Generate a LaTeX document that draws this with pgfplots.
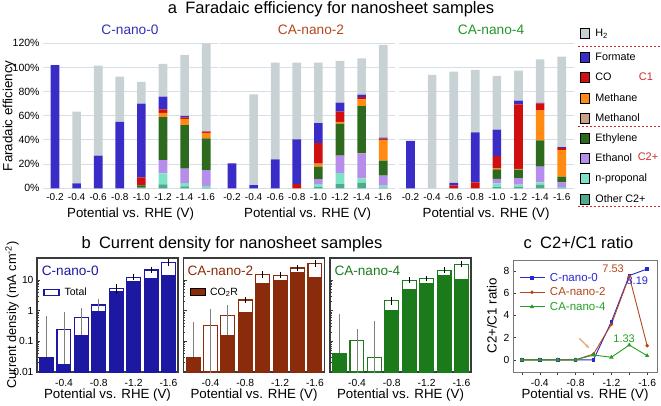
\documentclass[border=0pt]{standalone}
\usepackage{fontspec}
\setmainfont{Liberation Sans}
\usepackage{pgfplots}
\pgfplotsset{compat=1.18}
\usepackage{pgfplotstable}
\usetikzlibrary{arrows.meta}

\definecolor{cH2}{HTML}{C8D2D5}
\definecolor{cFormate}{HTML}{3A2CC6}
\definecolor{cCO}{HTML}{D0100F}
\definecolor{cMethane}{HTML}{FF8A14}
\definecolor{cMethanol}{HTML}{C9A184}
\definecolor{cEthylene}{HTML}{2E6A1E}
\definecolor{cEthanol}{HTML}{B68DEA}
\definecolor{cNprop}{HTML}{7EE3C6}
\definecolor{cOther}{HTML}{4FA98B}
\definecolor{cGrid}{HTML}{D6DFE8}
\definecolor{cRedD}{HTML}{D42A2A}
\definecolor{cT0}{HTML}{3030B8}
\definecolor{cT2}{HTML}{B4471E}
\definecolor{cT4}{HTML}{22962A}
\definecolor{cB0}{HTML}{1C18A2}
\definecolor{cB2}{HTML}{8A2B0C}
\definecolor{cB4}{HTML}{1B7B1B}
\definecolor{cFrame}{HTML}{3A3A3A}
\definecolor{cFrameC}{HTML}{777777}
\definecolor{cL0}{HTML}{2828D0}
\definecolor{cL2}{HTML}{B5461C}
\definecolor{cL4}{HTML}{23A023}
\definecolor{cArrow}{HTML}{E6A56E}

\newcommand\fs[1]{\fontsize{#1}{#1}\selectfont}

% Faradaic efficiency (%), stacked bottom to top
\pgfplotstableread{
x other nprop ethanol ethylene methanol methane co formate h2
1 0 0 0 0 0 0 0 102 0
2 0 0 0 0 0 0 0 4 59.5
3 0 0 0 0 0 0 0 27 74.5
4 0 0 0 0 0 0 0 55 37.5
5 0.5 0 0 2 0 0 6.5 61 18
6 3.3 9.1 11 35.4 0 3.6 3 10.4 27.2
7 1.5 2.8 12 36 0 4.9 1.4 1.4 50.3
8 0.5 1.5 13 26.4 0 4.4 1.1 0.3 72.8
}\feA
\pgfplotstableread{
x other nprop ethanol ethylene methanol methane co formate h2
1 0 0 0 0 0 0 0 20.7 0
2 0 0 0 0 0 0 0 2.7 75.1
3 0 0 0 0 0 0 0 24 80
4 0 0 0 0 0 0 3.5 37 63.5
5 1 2.5 4 10.5 0 2.5 17 16.5 50
6 3.5 9 14.5 26.5 0 1.5 8.5 7.5 34.5
7 4.5 3.8 20.7 39 0 5.5 2 2 30
8 0.5 1.8 8.2 12.4 0 17.1 1.2 0.8 76.6
}\feB
\pgfplotstableread{
x other nprop ethanol ethylene methanol methane co formate h2
1 0 0 0 0 0 0 0 39.2 0
2 0 0 0 0 0 0 0 0 93.8
3 0 0 0 0 0 0 2.5 2 92
4 0 0 0 0 0 0 5 41.3 51.7
5 1 3 3.7 8 0 1.1 9.9 21.8 44.5
6 1 2 5.5 7 0 0.5 53.5 3 24.9
7 3 2 13 21.7 0 25 5.6 0.4 36
8 0.5 0.5 4 4.7 0 21.8 2 0.5 75
}\feC

\newcommand\feplots[1]{%
  \addplot[fill=cOther,draw=none] table[x=x,y=other]{#1};
  \addplot[fill=cNprop,draw=none] table[x=x,y=nprop]{#1};
  \addplot[fill=cEthanol,draw=none] table[x=x,y=ethanol]{#1};
  \addplot[fill=cEthylene,draw=none] table[x=x,y=ethylene]{#1};
  \addplot[fill=cMethanol,draw=none] table[x=x,y=methanol]{#1};
  \addplot[fill=cMethane,draw=none] table[x=x,y=methane]{#1};
  \addplot[fill=cCO,draw=none] table[x=x,y=co]{#1};
  \addplot[fill=cFormate,draw=none] table[x=x,y=formate]{#1};
  \addplot[fill=cH2,draw=none] table[x=x,y=h2]{#1};
}

\pgfplotsset{
  feaxis/.style={
    ybar stacked, bar width=0.4,
    scale only axis, width=175pt, height=145pt, anchor=south west,
    xmin=0.45, xmax=8.55, ymin=0, ymax=120,
    axis line style={draw=none}, major tick length=0pt,
    ymajorgrids, grid style={draw=cGrid, line width=1pt},
    xtick={1,...,8}, xticklabels={-0.2,-0.4,-0.6,-0.8,-1.0,-1.2,-1.4,-1.6},
    ytick={0,20,...,120}, yticklabels={},
    xticklabel style={font=\fs{10}, yshift=-1.5pt},
    yticklabel style={font=\fs{10.5}},
    xlabel={Potential vs. RHE (V)},
    xlabel style={at={(axis description cs:0.5,0)}, anchor=north, yshift=-15.6pt, font=\fs{13.3}},
    legend style={draw=none, fill=none, inner sep=0pt, outer sep=0pt, row sep=9.8pt,
      font=\fs{10.8}, cells={anchor=west}, nodes={inner sep=0pt},
      /tikz/every odd column/.append style={column sep=6pt}},
    legend image code/.code={\fill[##1] (0pt,-5pt) rectangle (9pt,5pt);},
  },
  cdaxis/.style={
    scale only axis, width=141pt, height=114pt, anchor=south west,
    ymin=0.01, ymax=52,
    xmin=0.45, xmax=8.55,
    xtick={2,4,6,8}, xticklabels={-0.4,-0.8,-1.2,-1.6}, minor xtick={1,3,5,7},
    ytick={0.01,0.1,1,10}, yticklabels={},
    axis line style={draw=cFrame, line width=1.2pt},
    tick style={color=cFrame, line width=0.6pt}, tick align=inside,
    major tick length=3pt, minor tick length=1.8pt,
    xtick pos=bottom, ytick pos=left,
    ticklabel style={font=\fs{10.3}},
    xticklabel style={yshift=-4pt},
    xlabel={Potential vs. RHE (V)},
    xlabel style={at={(axis description cs:0.5,0)}, anchor=north, yshift=-13.6pt, font=\fs{13.3}},
    legend style={draw=none, fill=none, inner sep=0pt, outer sep=0pt, font=\fs{10.5},
      cells={anchor=west}, /tikz/every odd column/.append style={column sep=3pt}},
  },
  longerr/.style={draw=none, no markers, forget plot,
    error bars/y dir=both, error bars/y explicit, error bars/error mark=none,
    error bars/error bar style={draw=gray, line width=0.8pt}},
  shorterr/.style={draw=none, no markers, forget plot,
    error bars/y dir=both, error bars/y explicit,
    error bars/error bar style={draw=black, line width=0.8pt},
    error bars/error mark options={draw=black, mark size=2pt, line width=0.8pt}},
}

\begin{document}
\begin{tikzpicture}
\useasboundingbox (0pt,0pt) rectangle (661pt,405pt);

% ---------------- panel a ----------------
\begin{axis}[feaxis, at={(43.1pt,216.7pt)},
  yticklabels={0\%,20\%,40\%,60\%,80\%,100\%,120\%},
  ylabel={Faradaic efficiency},
  ylabel style={at={(axis description cs:-0.195,0.5)}, anchor=center, font=\fs{13.3}}]
\feplots{\feA}
\end{axis}

\begin{axis}[feaxis, at={(220.1pt,216.7pt)},
  legend style={at={(axis description cs:2.0566,1.103)}, anchor=north west}]
\addlegendimage{fill=cH2}\addlegendentry{H\textsubscript{2}}
\feplots{\feB}
\end{axis}

\begin{axis}[feaxis, at={(398.6pt,216.7pt)},
  legend style={at={(axis description cs:1.0366,0.938)}, anchor=north west}]
\addlegendimage{fill=cFormate}\addlegendentry{Formate}
\addlegendimage{fill=cCO}\addlegendentry{CO}
\addlegendimage{fill=cMethane}\addlegendentry{Methane}
\addlegendimage{fill=cMethanol}\addlegendentry{Methanol}
\addlegendimage{fill=cEthylene}\addlegendentry{Ethylene}
\addlegendimage{fill=cEthanol}\addlegendentry{Ethanol}
\addlegendimage{fill=cNprop}\addlegendentry{n-proponal}
\addlegendimage{fill=cOther}\addlegendentry{Other C2+}
\feplots{\feC}
\end{axis}

\node[anchor=base, font=\fs{16.5}] at (331pt,391.5pt) {a\hspace{0.5em}Faradaic efficiency for nanosheet samples};
\node[anchor=base, font=\fs{13.7}, text=cT0] at (130pt,370pt) {C-nano-0};
\node[anchor=base, font=\fs{13.7}, text=cT2] at (311pt,370pt) {CA-nano-2};
\node[anchor=base, font=\fs{13.7}, text=cT4] at (491pt,370pt) {CA-nano-4};
\draw[cRedD, line width=0.9pt, dash pattern=on 2pt off 2pt] (578pt,358.3pt) -- (661pt,358.3pt);
\draw[cRedD, line width=0.9pt, dash pattern=on 2pt off 2pt] (578pt,279pt) -- (661pt,279pt);
\draw[cRedD, line width=0.9pt, dash pattern=on 2pt off 2pt] (578pt,199pt) -- (661pt,199pt);
\node[font=\fs{11}, text=cRedD] at (646pt,328pt) {C1};
\node[font=\fs{11}, text=cRedD] at (648pt,248pt) {C2+};

% ---------------- panel b ----------------
\begin{semilogyaxis}[cdaxis, log origin=infty, at={(37pt,33pt)},
  yticklabels={0.01,0.1,1,10},
  ylabel={Current density (mA cm\textsuperscript{-2})},
  ylabel style={at={(axis description cs:-0.177,0.5)}, anchor=center, font=\fs{12.8}},
  legend style={at={(axis description cs:0.045,0.697)}, anchor=west},
  legend image code/.code={\draw[#1] (0pt,-3pt) rectangle (15pt,3pt);}]
\addlegendimage{draw=cB0, fill=white, line width=1.2pt}\addlegendentry{Total}
\addplot[ybar, bar width=0.8, bar shift=0pt, fill=white, draw=cB0, line width=1.1pt, forget plot]
  coordinates {(1,0.028) (2,0.247) (3,0.59) (4,1.53) (5,5.2) (6,12.2) (7,21.2) (8,36.6)};
\addplot[longerr] coordinates {(1,0.028) += (0,0.662) -= (0,0.023)
  (2,0.247) += (0,0.633) -= (0,0.242) (3,0.59) += (0,0.66) -= (0,0.585)
  (4,1.53) += (0,0.87) -= (0,1.525)};
\addplot[ybar, bar width=0.8, bar shift=0pt, fill=cB0, draw=cB0, line width=1.1pt, forget plot]
  coordinates {(1,0.029) (2,0.018) (3,0.15) (4,0.90) (5,4.06) (6,8.8) (7,11) (8,13.8)};
\addplot[shorterr] coordinates {(5,5.2) +- (0,1.1) (6,12.2) +- (0,0.9)
  (7,21.2) +- (0,1.6) (8,36.6) +- (0,3.5)};
\end{semilogyaxis}

\begin{semilogyaxis}[cdaxis, log origin=infty, at={(183.5pt,33pt)},
  legend style={at={(axis description cs:0.044,0.70)}, anchor=west},
  legend image code/.code={\fill[#1] (0pt,-3.5pt) rectangle (15pt,3.5pt);}]
\addlegendimage{fill=cB2}\addlegendentry{CO\textsubscript{2}R}
\addplot[ybar, bar width=0.8, bar shift=0pt, fill=white, draw=cB2, line width=1.1pt, forget plot]
  coordinates {(1,0.029) (2,0.33) (3,0.71) (4,2.23) (5,14.9) (6,14.2) (7,24.6) (8,34.9)};
\addplot[longerr] coordinates {(1,0.029) += (0,0.411) -= (0,0.024)
  (2,0.33) += (0,0.80) -= (0,0.325) (3,0.71) += (0,0.78) -= (0,0.705)};
\addplot[ybar, bar width=0.8, bar shift=0pt, fill=cB2, draw=cB2, line width=1.1pt, forget plot]
  coordinates {(1,0.030) (3,0.16) (4,0.88) (5,7.6) (6,9.8) (7,17.8) (8,12.2)};
\addplot[shorterr] coordinates {(4,2.23) +- (0,0.1) (5,14.9) +- (0,1.6)
  (6,14.2) +- (0,1.2) (7,24.6) +- (0,2) (8,34.9) +- (0,3.5)};
\end{semilogyaxis}

\begin{semilogyaxis}[cdaxis, log origin=infty, at={(330pt,33pt)}]
\addplot[ybar, bar width=0.8, bar shift=0pt, fill=white, draw=cB4, line width=1.1pt, forget plot]
  coordinates {(1,0.040) (2,0.108) (3,0.030) (4,2.1) (5,9.8) (6,10.8) (7,20.7) (8,33)};
\addplot[longerr] coordinates {(1,0.040) += (0,0.74) -= (0,0.035)
  (2,0.108) += (0,0.139) -= (0,0.103) (3,0.030) += (0,0.43) -= (0,0.025)};
\addplot[ybar, bar width=0.8, bar shift=0pt, fill=cB4, draw=cB4, line width=1.1pt, forget plot]
  coordinates {(1,0.041) (4,1.0) (5,5.0) (6,7.9) (7,13.5) (8,10.5)};
\addplot[shorterr] coordinates {(4,2.1) +- (0,0.3) (5,9.8) +- (0,0.8)
  (6,10.8) +- (0,0.4) (7,20.7) +- (0,1.3) (8,33) +- (0,3)};
\end{semilogyaxis}

\node[anchor=base, font=\fs{16.5}] at (232pt,157pt) {b\hspace{0.5em}Current density for nanosheet samples};
\node[anchor=base west, font=\fs{13.6}, text=cB0, inner sep=0pt] at (41.7pt,129.5pt) {C-nano-0};
\node[anchor=base west, font=\fs{13.6}, text=cB2, inner sep=0pt] at (187.3pt,130pt) {CA-nano-2};
\node[anchor=base west, font=\fs{13.6}, text=cB4, inner sep=0pt] at (334.3pt,130pt) {CA-nano-4};

% ---------------- panel c ----------------
\begin{axis}[scale only axis, width=144pt, height=112pt, at={(513pt,33pt)}, anchor=south west,
  x dir=reverse, xmin=-1.71, xmax=-0.1, ymin=-1.1, ymax=9,
  xtick={-0.4,-0.8,-1.2,-1.6}, xticklabels={-0.4,-0.8,-1.2,-1.6},
  minor xtick={-0.2,-0.6,-1.0,-1.4},
  ytick={0,2,4,6,8}, yticklabels={0,2,4,6,8},
  axis line style={draw=cFrameC, line width=0.9pt},
  tick style={color=cFrame, line width=0.6pt}, tick align=inside,
  x tick style={yshift=-3pt},
  major tick length=3pt, minor tick length=3pt,
  xtick pos=bottom, ytick pos=left,
  ticklabel style={font=\fs{10.3}},
  xticklabel style={yshift=-4pt},
  xlabel={Potential vs. RHE (V)},
  xlabel style={at={(axis description cs:0.5,0)}, anchor=north, yshift=-13.6pt, font=\fs{13.3}},
  ylabel={C2+/C1 ratio},
  ylabel style={at={(axis description cs:-0.146,0.5)}, anchor=center, font=\fs{13.3}},
  legend style={at={(axis description cs:0.042,0.902)}, anchor=north west, draw=none, fill=none,
    inner sep=0pt, outer sep=0pt, row sep=1pt, font=\fs{11.5}, cells={anchor=west},
    /tikz/every odd column/.append style={column sep=3pt}},
  legend image code/.code={\draw[mark repeat=2,mark phase=2,#1] plot coordinates {(0pt,0pt) (12.5pt,0pt) (25pt,0pt)};}]
\addplot[color=cL0, line width=0.9pt, mark=square*, mark size=1.3pt]
  coordinates {(-0.2,0) (-0.4,0) (-0.6,0) (-0.8,0) (-1.0,0) (-1.2,3.44) (-1.4,7.6) (-1.6,8.19)};
\addlegendentry[text=cL0]{C-nano-0}
\addplot[color=cL2, line width=0.9pt, mark=*, mark size=1.3pt]
  coordinates {(-0.2,0) (-0.4,0) (-0.6,0) (-0.8,0) (-1.0,0.52) (-1.2,3.2) (-1.4,7.53) (-1.6,1.27)};
\addlegendentry[text=cL2]{CA-nano-2}
\addplot[color=cL4, line width=0.9pt, mark=triangle*, mark size=1.6pt]
  coordinates {(-0.2,0) (-0.4,0) (-0.6,0) (-0.8,0) (-1.0,0.43) (-1.2,0.23) (-1.4,1.33) (-1.6,0.37)};
\addlegendentry[text=cL4]{CA-nano-4}
\node[text=cL2, font=\fs{11}] at (axis cs:-1.219,8.19) {7.53};
\node[text=cL0, font=\fs{11}] at (axis cs:-1.49,7.1) {8.19};
\node[text=cL4, font=\fs{11}] at (axis cs:-1.342,1.90) {1.33};
\draw[-{Stealth[length=4pt]}, cArrow, line width=1.2pt] (axis cs:-0.842,1.94) -- (axis cs:-0.953,1.04);
\end{axis}

\node[anchor=base, font=\fs{16.5}] at (578.5pt,157pt) {c\hspace{0.5em}C2+/C1 ratio};

\end{tikzpicture}
\end{document}
